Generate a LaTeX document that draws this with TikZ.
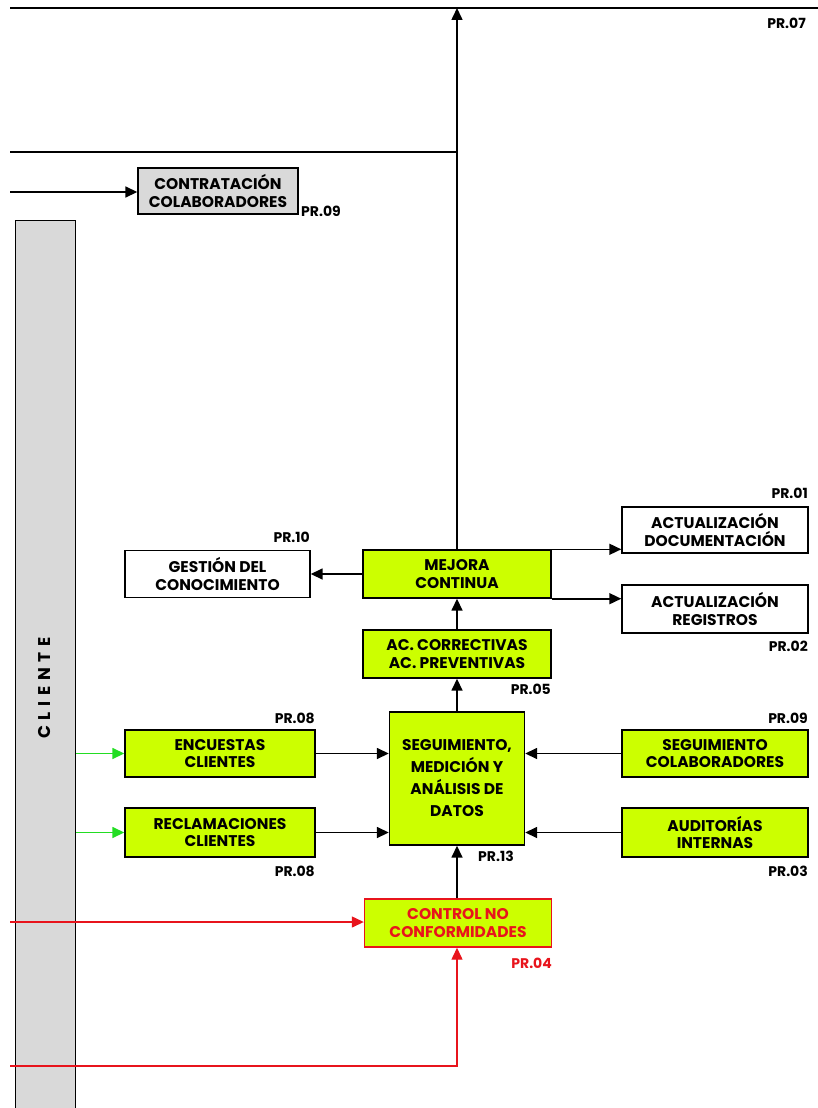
\documentclass[tikz,border=0pt]{standalone}
\usepackage{fontspec}
\setmainfont{Poppins}
\usetikzlibrary{arrows.meta}
\definecolor{lime}{HTML}{CCFF00}
\definecolor{barfill}{HTML}{D9D9D9}
\definecolor{ncred}{HTML}{E8141C}
\definecolor{ingreen}{HTML}{22DD22}
\begin{document}
\begin{tikzpicture}[x=1pt,y=-1pt,
  box/.style={draw=black,line width=1.4pt,align=center,inner sep=0pt,
    font=\bfseries\fontsize{15.5}{17.5}\selectfont},
  gbox/.style={box,fill=lime},
  wbox/.style={box,fill=white},
  code/.style={font=\bfseries\fontsize{14}{15}\selectfont,inner sep=0pt},
  link/.style={line width=1.6pt,-{Triangle[length=12pt,width=11pt]}},
  flow/.style={line width=1.6pt}]
\useasboundingbox (0,0) rectangle (818,1108);

% client lane
\node[draw=black,line width=1.3pt,fill=barfill,minimum width=60pt,minimum height=900pt,anchor=north west,inner sep=0pt] (cliente) at (15,220) {};
\node[rotate=90,font=\bfseries\fontsize{17}{17}\selectfont] (clientetxt) at (45,688) {C\,\,L\,\,I\,\,E\,\,N\,\,T\,\,E};

% upper lines
\coordinate (tl) at (10,8);
\coordinate (tr) at (818,8);
\coordinate (ml) at (10,152);
\coordinate (cl) at (10,192);
\draw[flow] (tl) -- (tr);
\node[code,anchor=north east] (pr07) at (806,18) {PR.07};

\node[box,fill=barfill,minimum width=160pt,minimum height=46pt] (contr) at (218,191) {CONTRATACIÓN\\COLABORADORES};
\node[code,anchor=south west] (pr09a) at (301,217) {PR.09};
\draw[link] (cl) -- (cl -| contr.west);

% improvement block
\node[gbox,minimum width=188pt,minimum height=48pt] (mejora) at (457,574) {MEJORA\\CONTINUA};
\coordinate (top) at (mejora.north |- tl);
\coordinate (mr) at (mejora.north |- ml);
\draw[flow] (ml) -- (mr);
\node[wbox,minimum width=185pt,minimum height=47pt] (gestion) at (217.5,574) {GESTIÓN DEL\\CONOCIMIENTO};
\node[code,anchor=south east] (pr10) at (310,543) {PR.10};
\node[wbox,minimum width=186pt,minimum height=46pt] (actdoc) at (715,530) {ACTUALIZACIÓN\\DOCUMENTACIÓN};
\node[code,anchor=south east] (pr01) at (808,499) {PR.01};
\node[wbox,minimum width=186pt,minimum height=48pt] (actreg) at (715,609) {ACTUALIZACIÓN\\REGISTROS};
\node[code,anchor=north east] (pr02) at (808,641) {PR.02};
\node[gbox,minimum width=188pt,minimum height=48pt] (acc) at (457,654) {AC. CORRECTIVAS\\AC. PREVENTIVAS};
\node[code,anchor=north east] (pr05) at (551,684) {PR.05};

\draw[link] (mejora.north) -- (top);
\draw[link] (mejora.west) -- (gestion.east);
\draw[link] (mejora.north east) -- (mejora.north east -| actdoc.west);
\draw[link] (mejora.south east) -- (mejora.south east -| actreg.west);
\draw[link] (acc.north) -- (mejora.south);

% measurement block
\node[gbox,minimum width=135pt,minimum height=133pt,font=\bfseries\fontsize{15.5}{22}\selectfont] (seg) at (457,778.5) {SEGUIMIENTO,\\MEDICIÓN Y\\ANÁLISIS DE\\DATOS};
\node[code,anchor=north west] (pr13) at (478,851) {PR.13};
\draw[link] (seg.north) -- (acc.south);

\node[gbox,minimum width=190pt,minimum height=47pt] (enc) at (220,753.5) {ENCUESTAS\\CLIENTES};
\node[code,anchor=south east] (pr08a) at (315,724) {PR.08};
\node[gbox,minimum width=190pt,minimum height=49pt] (rec) at (220,832.5) {RECLAMACIONES\\CLIENTES};
\node[code,anchor=north east] (pr08b) at (315,866) {PR.08};
\node[gbox,minimum width=186pt,minimum height=47pt] (segcol) at (715,753.5) {SEGUIMIENTO\\COLABORADORES};
\node[code,anchor=south east] (pr09b) at (808,724) {PR.09};
\node[gbox,minimum width=186pt,minimum height=49pt] (aud) at (715,832.5) {AUDITORÍAS\\INTERNAS};
\node[code,anchor=north east] (pr03) at (808,866) {PR.03};

\draw[link] (enc.east) -- (enc.east -| seg.west);
\draw[link] (rec.east) -- (rec.east -| seg.west);
\draw[link] (segcol.west) -- (segcol.west -| seg.east);
\draw[link] (aud.west) -- (aud.west -| seg.east);
\draw[link,ingreen] (enc.west -| cliente.east) -- (enc.west);
\draw[link,ingreen] (rec.west -| cliente.east) -- (rec.west);

% nonconformity control
\node[gbox,draw=ncred,text=ncred,minimum width=187pt,minimum height=48pt] (ctrl) at (458,923) {CONTROL NO\\CONFORMIDADES};
\node[code,text=ncred,anchor=north east] (pr04) at (552,958) {PR.04};
\draw[link] (ctrl.north -| seg.south) -- (seg.south);
\coordinate (r1) at (10,922);
\coordinate (r2) at (10,1066);
\draw[link,ncred,line width=1.3pt] (r1) -- (r1 -| ctrl.west);
\draw[link,ncred,line width=1.3pt] (r2) -| (ctrl.south -| seg.south);
\end{tikzpicture}
\end{document}
